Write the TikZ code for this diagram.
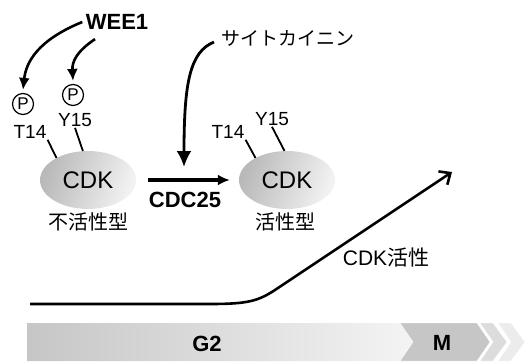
\documentclass[tikz,border=0pt]{standalone}
\usepackage{fontspec}
\setmainfont{Liberation Sans}
\newfontfamily\jp{Noto Sans CJK JP}
\usepackage{xcolor}
\usetikzlibrary{arrows.meta,shapes.geometric}
\definecolor{ink}{HTML}{000000}
\definecolor{bar}{HTML}{C6C6C6}
\definecolor{barlt}{HTML}{F4F4F4}
\definecolor{chev}{HTML}{DCDCDC}
\definecolor{chevlt}{HTML}{ECECEC}
\tikzset{
  arr/.style={draw=ink, line width=2.6pt, -{Latex[length=12pt,width=11pt]}},
  stick/.style={draw=ink, line width=1.8pt},
  pcirc/.style={circle, draw=ink, line width=1.2pt, minimum size=21pt, inner sep=0pt, font=\fontsize{17}{17}\selectfont},
  site/.style={font=\fontsize{19}{19}\selectfont, inner sep=1pt},
  cdk/.style={ellipse, minimum width=96pt, minimum height=58pt, left color=gray!55, right color=gray!10, shading angle=70, font=\fontsize{24}{24}\selectfont},
  jlab/.style={font=\jp\fontsize{20}{20}\selectfont},
  bold/.style={font=\bfseries\fontsize{22}{22}\selectfont},
}
\begin{document}
\begin{tikzpicture}[x=1pt,y=1pt]
  \useasboundingbox (0,0) rectangle (526,362);
  % phase bar
  \fill[chevlt, draw=white] (498,39) -- (511,39) -- (525,20) -- (511,1) -- (498,1) -- (511,20) -- cycle;
  \fill[chev, draw=white] (480,39) -- (493,39) -- (507,20) -- (493,1) -- (480,1) -- (493,20) -- cycle;
  \fill[bar, draw=white] (400,39) -- (477,39) -- (490,20) -- (477,1) -- (400,1) -- (413,20) -- cycle;
  \shade[left color=bar, right color=barlt] (27,1) -- (27,39) -- (400,39) -- (413,20) -- (400,1) -- cycle;
  \node[bold] (g2) at (207,18) {G2};
  \node[bold] (m) at (442,19) {M};
  % CDK activity
  \coordinate (s) at (30,58);
  \coordinate (e) at (452,190);
  \draw[draw=ink, line width=2.6pt, -{Straight Barb[length=9pt,width=16pt]}]
    (s) -- (210,58) .. controls (248,58) and (258,61) .. (275,72) -- (e);
  \node[font=\fontsize{21}{21}\selectfont] (act) at (386,104) {CDK{\jp 活性}};
  % inactive CDK
  \node[cdk] (cdk1) at (88,182) {CDK};
  \node[jlab] (inact) at (88,140) {不活性型};
  \node[site] (t14a) at (30,230) {T14};
  \node[site] (y15a) at (75,242) {Y15};
  \node[pcirc] (p1) at (23,258) {P};
  \node[pcirc] (p2) at (73,267) {P};
  \draw[stick] (t14a.south east) -- (cdk1.145);
  \draw[stick] (y15a.south) -- (cdk1.100);
  \node[bold] (wee) at (117,340) {WEE1};
  \draw[arr] (wee.west) .. controls (38,322) and (26,300) .. ([yshift=3pt]p1.north);
  \draw[arr] ([xshift=-22pt,yshift=-6pt]wee.south) .. controls (76,310) and (72,300) .. ([yshift=3pt]p2.north);
  % active CDK
  \node[cdk] (cdk2) at (287,182) {CDK};
  \node[jlab] (act2) at (285,140) {活性型};
  \node[site] (t14b) at (228,230) {T14};
  \node[site] (y15b) at (272,243) {Y15};
  \draw[stick] (t14b.south east) -- (cdk2.145);
  \draw[stick] (y15b.south) -- (cdk2.95);
  % CDC25
  \draw[draw=ink, line width=4pt, -{Latex[length=12pt,width=11pt]}]
    ([xshift=12pt]cdk1.east) -- ([xshift=-9pt]cdk2.west);
  \node[bold] (cdc) at (185,162) {CDC25};
  \coordinate (hit) at (184,195);
  \node[font=\jp\fontsize{19}{19}\selectfont] (cyto) at (288,324) {サイトカイニン};
  \draw[draw=ink, line width=2.8pt, -{Latex[length=16pt,width=15pt]}]
    ([xshift=-4pt,yshift=-4pt]cyto.west) .. controls (190,310) and (184,280) .. (hit);
\end{tikzpicture}
\end{document}
